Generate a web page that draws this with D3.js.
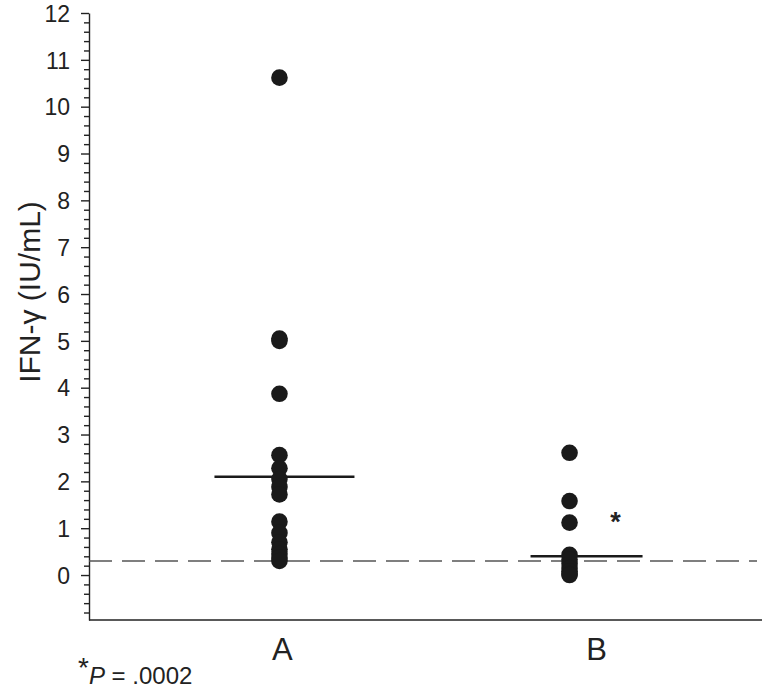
<!DOCTYPE html>
<html>
<head>
<meta charset="utf-8">
<script src="https://cdn.jsdelivr.net/npm/d3@7"></script>
<style>
  body { margin: 0; background: #fff; }
  text { font-family: "Liberation Sans", Arial, sans-serif; fill: #222; }
</style>
</head>
<body>
<div id="chart"></div>
<script>
// groups and IFN-gamma values
const categories = ["A", "B"];
const groupA = [10.62, 5.05, 5.0, 3.87, 2.56, 2.28, 2.05, 1.88, 1.72, 1.14, 0.9, 0.7, 0.55, 0.45, 0.37, 0.3];
const groupB = [2.61, 1.58, 1.12, 0.43, 0.33, 0.24, 0.15, 0.08, 0.02, 0.0];
const medians = [2.1, 0.4];
const cutoff = 0.3;
const yTicks = [0, 1, 2, 3, 4, 5, 6, 7, 8, 9, 10, 11, 12];

const width = 764, height = 690;
const margin = { top: 13, right: 2, bottom: 70, left: 89 };

const svg = d3.select("#chart")
  .append("svg")
  .attr("width", width)
  .attr("height", height);

const y = d3.scaleLinear()
  .domain([-0.96, 12])
  .range([height - margin.bottom, margin.top]);

const x = d3.scalePoint()
  .domain(categories)
  .range([margin.left, width - margin.right])
  .padding(0.66);

// minor ticks every 0.2
const minor = d3.range(-0.8, 12.01, 0.2).filter(v => Math.abs(v - Math.round(v)) > 0.01);

const yAxis = svg.append("g").attr("transform", `translate(${margin.left},0)`);
yAxis.append("g")
  .call(d3.axisLeft(y).tickValues(minor).tickSize(5).tickFormat(""))
  .call(g => g.select(".domain").remove());
yAxis.append("g")
  .call(d3.axisLeft(y).tickValues(yTicks).tickSize(8).tickPadding(11).tickSizeOuter(0))
  .call(g => g.selectAll("text").style("font-size", "23px").attr("dy", "0.36em"));
yAxis.selectAll("line, path").attr("stroke", "#222").attr("stroke-width", 1.4);

// x axis line (no ticks)
svg.append("line")
  .attr("x1", margin.left).attr("x2", width - margin.right)
  .attr("y1", y(-0.96)).attr("y2", y(-0.96))
  .attr("stroke", "#222").attr("stroke-width", 1.4);

svg.append("g")
  .selectAll("text")
  .data(categories)
  .join("text")
  .attr("x", (d, i) => x(d) + (i === 1 ? 26 : 2))
  .attr("y", 660)
  .attr("text-anchor", "middle")
  .style("font-size", "31px")
  .text(d => d);

// cutoff dashed line
svg.append("line")
  .attr("x1", margin.left).attr("x2", 757)
  .attr("y1", y(cutoff)).attr("y2", y(cutoff))
  .attr("stroke", "#555").attr("stroke-width", 1.4)
  .attr("stroke-dasharray", "23,10");

// dots
const groups = [groupA, groupB];
const dotShift = [-1, -1];
groups.forEach((vals, i) => {
  svg.append("g")
    .selectAll("circle")
    .data(vals)
    .join("circle")
    .attr("cx", x(categories[i]) + dotShift[i])
    .attr("cy", d => y(d))
    .attr("r", 8.3)
    .attr("fill", "#1a1a1a");
});

// medians
const halfW = [70, 56];
const medShift = [4, 16];
svg.append("g")
  .selectAll("line")
  .data(medians)
  .join("line")
  .attr("x1", (d, i) => x(categories[i]) + medShift[i] - halfW[i])
  .attr("x2", (d, i) => x(categories[i]) + medShift[i] + halfW[i])
  .attr("y1", d => y(d))
  .attr("y2", d => y(d))
  .attr("stroke", "#1a1a1a")
  .attr("stroke-width", 2.6);

// significance marker
svg.append("text")
  .attr("x", x("B") + 45)
  .attr("y", y(0.95))
  .attr("text-anchor", "middle")
  .style("font-size", "27px")
  .style("font-weight", "bold")
  .text("*");

// y label
svg.append("text")
  .attr("transform", "translate(40,292) rotate(-90)")
  .attr("text-anchor", "middle")
  .style("font-size", "30px")
  .text("IFN-\u03B3 (IU/mL)");

// footnote
const foot = svg.append("text")
  .attr("x", 78)
  .attr("y", 684)
  .style("font-size", "24px");
foot.append("tspan").attr("dy", "-7").style("font-size", "28px").text("*");
foot.append("tspan").attr("dy", "7").style("font-style", "italic").text("P");
foot.append("tspan").text(" = .0002");
</script>
</body>
</html>
